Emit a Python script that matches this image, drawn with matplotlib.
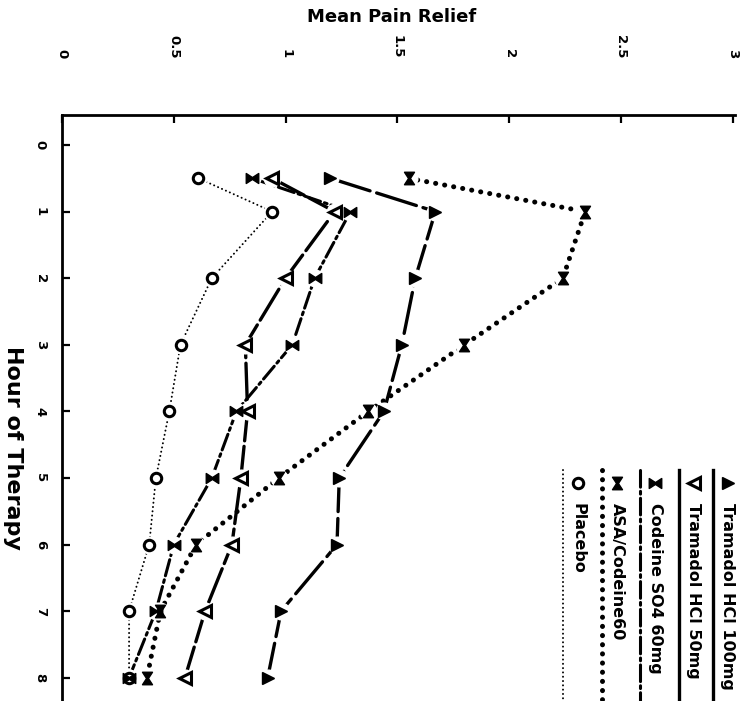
import matplotlib
matplotlib.use("Agg")
import matplotlib.pyplot as plt
from matplotlib.path import Path

plt.rcParams['lines.scale_dashes'] = False
plt.rcParams['font.family'] = 'DejaVu Sans'

# hours of therapy
hours = [0.5, 1, 2, 3, 4, 5, 6, 7, 8]

# mean pain relief per treatment
tram100 = [1.20, 1.67, 1.58, 1.52, 1.44, 1.24, 1.23, 0.98, 0.92]
tram50 = [0.94, 1.22, 1.00, 0.82, 0.83, 0.80, 0.76, 0.64, 0.55]
codeine = [0.85, 1.29, 1.13, 1.03, 0.78, 0.67, 0.50, 0.42, 0.30]
asa_cod = [1.55, 2.34, 2.24, 1.80, 1.37, 0.97, 0.60, 0.44, 0.38]
placebo = [0.61, 0.94, 0.67, 0.53, 0.48, 0.42, 0.39, 0.30, 0.30]

labels = ['Tramadol HCl 100mg', 'Tramadol HCl 50mg', 'Codeine SO4 60mg',
          'ASA/Codeine60', 'Placebo']

x_ticks = [0, 0.5, 1, 1.5, 2, 2.5, 3]
x_ticklabels = ['0', '0.5', '1', '1.5', '2', '2.5', '3']
y_ticks = [0, 1, 2, 3, 4, 5, 6, 7, 8]

bowtie = Path([(-1, -0.8), (-1, 0.8), (0, 0.15), (1, 0.8), (1, -0.8), (0, -0.15), (-1, -0.8)],
              [1, 2, 2, 2, 2, 2, 79])
hourglass = Path([(-0.8, 1), (0.8, 1), (0.15, 0), (0.8, -1), (-0.8, -1), (-0.15, 0), (-0.8, 1)],
                 [1, 2, 2, 2, 2, 2, 79])

styles = [
    dict(ls=(0, (30, 5)), lw=2.4, marker='>', mfc='black', ms=9, mew=1),
    dict(ls=(0, (26, 4)), lw=2.4, marker='<', mfc='white', ms=9, mew=2.2),
    dict(ls=(0, (12, 3, 2, 3)), lw=2.2, marker=bowtie, mfc='black', ms=9, mew=1),
    dict(ls=(0, (0.1, 6.5)), lw=3.6, marker=hourglass, mfc='black', ms=9, mew=1),
    dict(ls=(0, (0.1, 3)), lw=1.4, marker='o', mfc='white', ms=7.5, mew=2.2),
]
series = [tram100, tram50, codeine, asa_cod, placebo]

fig = plt.figure(figsize=(7.53, 7.01), dpi=100)
ax = fig.add_axes([62 / 753, 0, 673 / 753, 586 / 701])

for vals, st in zip(series, styles):
    ax.plot(vals, hours, color='black', linestyle=st['ls'], lw=st['lw'],
            dash_capstyle='round', solid_capstyle='round', zorder=2)
for vals in series:
    ax.plot(vals, hours, 'o', color='white', ms=12, zorder=3)
# placebo first so the drug markers sit on top of it
for vals, st in list(zip(series, styles))[::-1]:
    ax.plot(vals, hours, linestyle='none', marker=st['marker'], ms=st['ms'],
            mfc=st['mfc'], mec='black', mew=st['mew'], zorder=4)

ax.set_xlim(0, 3.01)
ax.set_ylim(8.35, -0.45)
ax.xaxis.tick_top()
ax.set_xticks(x_ticks)
ax.set_xticklabels(x_ticklabels, rotation=-90, fontweight='bold', fontsize=9.5)
ax.set_yticks(y_ticks)
ax.set_yticklabels([str(h) for h in y_ticks], rotation=-90, fontweight='bold', fontsize=9.5,
                   va='center')
ax.tick_params(axis='x', direction='in', length=6, width=1.6, pad=41)
ax.tick_params(axis='y', direction='in', length=6, width=1.6, pad=11)
for s in ['right', 'bottom']:
    ax.spines[s].set_visible(False)
for s in ['top', 'left']:
    ax.spines[s].set_linewidth(2)

fig.text(392 / 753, 1 - 17 / 701, 'Mean Pain Relief', ha='center', va='center',
         fontsize=13, fontweight='bold')
fig.text(13 / 753, 1 - 448 / 701, 'Hour of Therapy', ha='center', va='center',
         rotation=-90, fontsize=16, fontweight='bold')

# legend drawn by hand, rotated like the scan
leg_x = [728, 694, 655, 617, 578]
for lx, lab, st in zip(leg_x, labels, styles):
    fig.lines.append(plt.Line2D([(lx - 15) / 753, (lx - 15) / 753], [1 - 470 / 701, 0],
                                transform=fig.transFigure, color='black',
                                linestyle='-' if lab.startswith('Tram') else st['ls'],
                                lw=st['lw'], dash_capstyle='round'))
    fig.lines.append(plt.Line2D([lx / 753], [1 - 483 / 701], transform=fig.transFigure,
                                linestyle='none', marker=st['marker'], ms=st['ms'],
                                mfc=st['mfc'], mec='black', mew=st['mew']))
    fig.text(lx / 753, 1 - 503 / 701, lab, rotation=-90, ha='center', va='top',
             fontsize=11.5, fontweight='bold')

fig.savefig('out.png', dpi=100, facecolor='white')
